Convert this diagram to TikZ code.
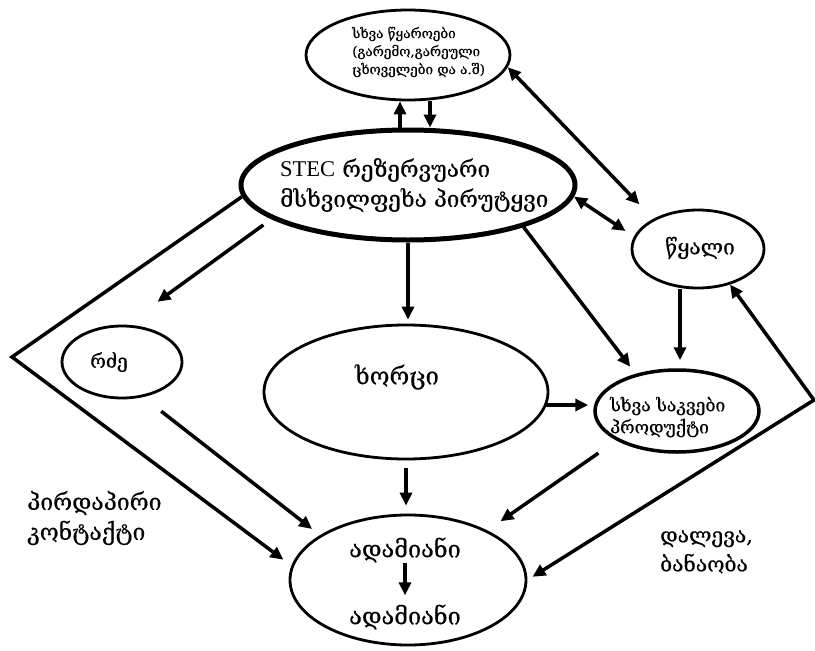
\documentclass[tikz,border=0pt]{standalone}
\usepackage{fontspec}
\setmainfont{DejaVu Serif}[FakeBold=0.4]
\newfontfamily\latinserif{Liberation Serif}
\usetikzlibrary{arrows.meta,shapes.geometric}
\newcommand\fsz[2]{\fontsize{#1pt}{#2pt}\selectfont}
\begin{document}
\begin{tikzpicture}[x=1pt,y=-1pt,
  ell/.style={draw, ellipse, line width=2.8pt, inner sep=0pt},
  txt/.style={inner sep=0pt, align=center},
  ltxt/.style={inner sep=0pt, align=left, anchor=west},
  arr/.style={line width=3.5pt, -{Triangle[length=13pt,width=12pt]}},
  darr/.style={line width=3.5pt, {Triangle[length=13pt,width=12pt]}-{Triangle[length=13pt,width=12pt]}}]
\useasboundingbox[fill=white] (0,0) rectangle (815,651);

% ellipses
\node[ell, minimum width=204pt, minimum height=90pt] (top) at (408,55) {};
\node[ell, line width=5pt, minimum width=334pt, minimum height=110pt] (stec) at (408,185) {};
\node[ell, minimum width=132pt, minimum height=78pt] (water) at (698,249) {};
\node[ell, minimum width=120pt, minimum height=72pt] (rdze) at (122,362) {};
\node[ell, minimum width=284pt, minimum height=134pt] (khorci) at (406,392) {};
\node[ell, line width=3.5pt, minimum width=164pt, minimum height=82pt] (prod) at (677,411) {};
\node[ell, minimum width=236pt, minimum height=130pt] (adam) at (408,580) {};

% texts
\node[ltxt, font=\fsz{13.5}{18}] (topt) at (352,52) {სხვა წყაროები\\(გარემო,გარეული\\ცხოველები და ა.შ)};
\node[ltxt, font=\fsz{22.5}{30}] (stect) at (280,185) {{\latinserif STEC} რეზერვუარი\\მსხვილფეხა პირუტყვი};
\node[txt, font=\fsz{21}{24}] (watert) at (700,248) {წყალი};
\node[txt, font=\fsz{19}{24}] (rdzet) at (109,362) {რძე};
\node[txt, font=\fsz{24}{24}] (khorcit) at (397,377) {ხორცი};
\node[ltxt, font=\fsz{17.5}{22}] (prodt) at (610,417) {სხვა საკვები\\პროდუქტი};
\node[txt, font=\fsz{23.5}{24}] (a1) at (405,550) {ადამიანი};
\node[txt, font=\fsz{23.5}{24}] (a2) at (405,617) {ადამიანი};
\node[ltxt, font=\fsz{23}{30}] (contact) at (27,518) {პირდაპირი\\კონტაქტი};
\node[ltxt, font=\fsz{21}{29}] (drink) at (660,552) {დალევა,\\ბანაობა};

% helper coordinates
\coordinate (apexL) at (12,357);
\coordinate (apexR) at (814,400);

% connectors
\draw[arr] ([xshift=-8pt]stec.north) -- ([xshift=-8pt]top.south);
\draw[arr] ([xshift=22pt]top.south) -- ([xshift=22pt]stec.north);
\draw[darr, shorten >=20pt] (top.-7) -- (water.146);
\draw[darr, shorten >=10pt] (stec.-4) -- (water.169);
\draw[arr, shorten <=10pt, shorten >=39pt] (stec.194) -- (rdze.84);
\draw[arr, shorten >=4pt] (stec.south) -- (stec.south |- khorci.north);
\draw[arr, shorten >=9pt] (stec.-20) -- (prod.138);
\draw[arr, shorten >=8pt] ([xshift=-18pt]water.south) -- ([xshift=3pt]prod.north);
\draw[arr, shorten <=-3pt, shorten >=5pt] ([yshift=-13pt]khorci.east) -- ([yshift=-13pt]khorci.east -| prod.west);
\draw[arr, shorten <=8pt, shorten >=8pt] (khorci.south) -- (khorci.south |- adam.north);
\draw[arr, shorten <=22pt, shorten >=16pt] (prod.206) -- (adam.32);
\draw[arr, shorten <=23pt, shorten >=10pt] (rdze.-59) -- (adam.153);
\draw[arr, shorten >=9pt] (a1) -- (a2);
\draw[arr, shorten >=10pt] (stec.184) -- (apexL) -- (adam.173);
\draw[darr, shorten >=6pt] (water.-48) -- (apexR) -- (adam.east);
\end{tikzpicture}
\end{document}
